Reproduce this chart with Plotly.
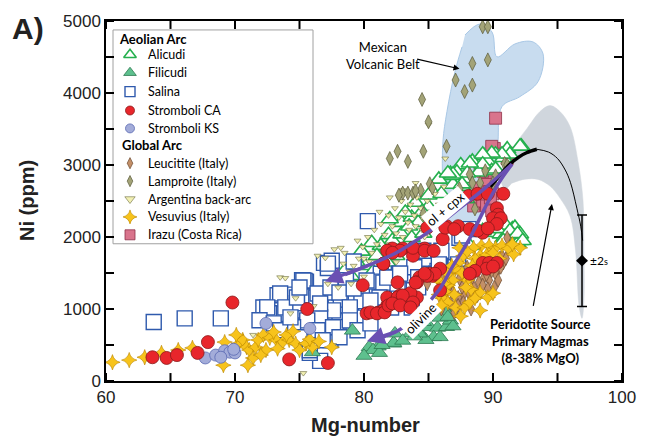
import plotly.graph_objects as go

# ---------------- data (Mg-number, Ni ppm) ----------------
alicudi = [(92.2,3260),(91.1,3220),(90.2,3150),(89.3,3130),(88.4,3050),(87.5,3000),(86.7,2880),(87.7,2810),
           (89.6,3050),(90.8,3100),(86.9,2730),(85.3,2630),(85.0,2580),(82.9,2200),(81.9,2030),(87.2,2900),
           (86.8,2850),(87.6,2700),(87.9,2530),(85.0,2420),(83.7,2270),(82.2,1950),(81.3,1880),(90.4,2130),
           (91.5,2110),(92.1,1950),(91.9,1910),(91.2,2060),(90.0,2060),(90.6,2040),(91.7,2130),(92.1,2040),
           (82.9,2040),(82.5,1740),(81.4,1740),(81.0,1740),(80.1,1600),(79.4,1660),(78.5,1530),(79.8,1800),
           (80.6,1920),(82.0,2250),(83.2,2340),(84.0,2480),(84.2,2200),(83.7,1990),(80.7,1520),(79.0,1460),
           (88.9,2900),(89.9,2920),(91.0,2160),(90.8,1980),(85.8,2800),(84.5,2350),(86.0,2600),
           (92.1,3259),(91.3,3149),(90.7,3149),(89.9,3163),(89.2,3149),(89.2,3011),(88.2,3024),(88.0,2886),
           (86.9,2872),(86.5,2886),(87.6,2734),(90.2,2942),(89.2,2085),(90.3,2113),(91.3,2085),(91.9,2044),
           (92.3,1947),(90.8,1947),(88.2,1878),(83.5,2150),(84.6,2050),(85.5,2250),(86.3,2400),(81.8,1650)]
filicudi = [(76.0,400),(79.1,700),(80.4,470),(81.1,480),(80.7,430),(81.2,390),(82.3,520),(83.6,660),(84.4,660),
            (85.1,750),(85.7,740),(86.4,750),(86.7,840),(86.9,930),(86.4,950),(86.9,760),(85.4,610),(85.9,610),
            (84.8,570),(84.3,660),(83.9,620),(82.3,530),(81.4,500),(82.4,660),(83.6,790),(84.6,820),(85.9,880),
            (86.5,890),(80.0,350),(83.0,560)]
salina = [(63.7,820),(66.1,870),(68.9,870),(72.2,1020),(73.3,1190),(74.0,1200),(75.2,1400),(75.5,1380),(76.9,1640),
          (77.5,1670),(72.7,940),(73.3,750),(74.5,750),(76.1,840),(76.6,660),(77.4,570),(75.6,700),(77.1,940),
          (77.8,1020),(78.1,840),(76.6,280),(75.8,390),(80.3,2220),(77.2,1570),(75.4,1390),(75.0,980),(76.3,1160),
          (76.6,980),(77.8,750),(79.0,980),(79.0,1220),(80.3,1260),(81.3,1490),(82.3,1440),(83.4,1440),(84.4,1490),
          (85.7,1530),(86.7,1580),(85.9,1710),(87.4,1990),(87.1,1580),(83.9,1580),(75.2,750),(76.7,750),(79.8,1110),
          (81.0,1220),(82.0,1260),(83.4,1260),(81.3,1020),(80.0,880),(88.1,2110),(87.6,2020),(79.2,1660),(84.6,1810),
          (86.0,1810),(87.3,1620),(87.2,1490),(85.6,1490),(85.8,1620),(84.2,1440),(82.7,1490),(81.9,1400),(81.4,1220),
          (82.7,1260),(84.2,1300),(83.7,1020),(82.1,1020),(73.8,930),(74.8,1080),(78.6,1400),(80.6,1380),(78.2,1130),
          (77.2,1630),(75.3,1395),(73.5,1215),(72.5,1022),(71.9,843),(73.0,801),(73.9,1022),(74.8,1160),(76.4,1215),
          (77.4,1298),(78.1,1229),(79.2,1284),(80.2,1395),(81.5,1367),(82.6,1353),(81.2,1160),(80.5,1119),(78.9,1022),
          (77.6,981),(76.6,884),(75.6,842),(74.5,746),(73.5,704),(75.0,608),(76.4,704),(77.6,746),(78.9,842),(78.1,608),
          (76.8,566),(75.8,428),(74.3,884),(79.5,704),(80.5,801),(81.8,1436),(82.8,1491),(75.0,1298),(76.6,1077)]
stromboli_ca = [(63.6,330),(64.7,320),(65.5,360),(67.9,540),(67.1,390),(69.8,1090),(74.2,300),(75.6,1000),(77.2,250),
                (79.9,1330),(80.2,940),(81.1,950),(81.8,1050),(82.2,1100),(82.6,1160),(83.3,1190),(82.6,1370),(84.1,1160),
                (84.3,1440),(85.3,1460),(85.9,1560),(85.9,1260),(81.5,1630),(82.2,1840),(83.0,1840),(83.8,1740),(84.7,1840),
                (86.1,1970),(86.4,2150),(87.3,2150),(88.2,2110),(88.1,2570),(88.8,2600),(89.6,2600),(90.8,2600),(90.3,2400),
                (90.4,2310),(90.0,2260),(90.6,2260),(90.3,2180),(89.2,2060),(88.8,2090),(84.9,2130),(81.8,1810),(82.8,1810),
                (89.2,1640),(89.7,1640),(90.3,1640),(89.5,1560),(90.0,1590),(88.6,1530),(88.2,1490),(85.1,1490),(85.5,1490),
                (84.9,1460),(84.1,1370),(83.6,1220),(82.8,1190),(83.0,1150),(82.0,1120),(81.5,980),
                (81.5,1630),(82.2,1781),(83.8,1850),(84.7,1809),(81.8,1160),(82.6,1160),(83.0,1188),(83.8,1091),(80.5,953),
                (81.0,939),(81.6,953),(81.9,1050),(82.2,1077),(82.8,1050),(83.6,1022),(84.0,1367),(84.7,1491),(85.4,1809),
                (86.3,2130),(87.0,2110),(89.6,2120)]
stromboli_ks = [(67.7,320),(68.5,360),(69.2,420),(69.6,400),(70.0,390),(69.9,440),(72.4,800),(75.8,730),(68.9,330)]
leucitite = [(91.1,1990),(90.7,1740),(90.8,1640),(90.4,1550),(90.2,1490),(89.7,1400),(89.3,1440),(88.9,1370),(88.5,1300),
             (88.1,1230),(87.7,1190),(87.3,1160),(86.9,1230),(87.6,1300),(88.4,1440),(89.2,1330),(89.6,1280),(90.1,1300),
             (90.4,1400),(88.8,1190),(88.4,1160),(87.7,1090),(87.3,1050),(86.7,1080),(86.3,1210),(84.9,1350),(87.4,1420),
             (89.9,1530),(90.6,1580),(88.0,1580),(88.7,1550),(86.1,1420),(87.0,950),(86.6,1320),(89.0,1620),(88.3,1000),
             (87.9,1450),(86.0,1000),(89.5,1480),(91.0,1700)]
lamproite = [(89.2,4920),(89.6,4920),(89.6,4460),(88.4,4410),(87.1,4180),(88.4,4110),(87.8,4020),(84.5,3910),(85.0,3600),
             (86.4,3260),(84.6,3190),(82.6,3190),(82.0,3090),(83.4,3050),(83.0,2610),(83.4,2610),(83.8,2610),(84.4,2650),
             (85.1,2740),(85.3,2680),(87.4,2670),(88.2,2870),(88.4,2750),(89.0,2750),(89.4,2920),(90.2,2850),(90.9,3020),
             (91.1,3000),(90.0,2750),(88.6,2390),(84.6,2320),(84.0,2640),(82.7,2580),(89.8,2600),(87.0,2500)]
argentina = [(73.5,1440),(74.7,1150),(74.3,940),(75.3,110),(71.4,640),(76.4,1740),(77.7,1830),(78.2,1850),(78.5,1780),
             (78.4,1630),(77.0,1710),(79.6,1700),(79.2,1600),(73.9,1430),(77.6,500),(76.1,1040),(80.4,1660),(78.9,1520),
             (79.9,1860),(80.3,2000),(80.8,2100),(81.0,1900),(81.3,2180),(81.6,2030),(81.9,2300),(82.2,2150),(82.4,2400),
             (82.7,2270),(82.9,2500),(83.2,2350),(83.4,2200),(83.6,2450),(83.9,2300),(84.1,2550),(84.4,2400),(84.6,2250),
             (84.9,2500),(85.2,2350),(85.5,2600),(85.8,2450),(86.2,2700),(86.3,3090),(85.0,3560),(86.6,2550),(80.6,1780),
             (81.0,1650),(81.5,1800),(82.0,1900),(82.5,2050),(83.0,2000),(83.5,2100),(84.0,2150),(84.5,2100),(85.0,2200),
             (79.5,1950),(80.0,1700),(81.2,2350),(82.0,2550),(83.0,2650),(84.0,2750),(84.7,2000),(85.6,2200),(77.2,1350),
             (78.0,1300),(79.0,1350),(80.0,1450),(82.5,1650)]
vesuvius = [(60.5,260),(61.8,290),(63.0,330),(64.3,390),(65.6,430),(66.7,460),(69.2,540),(69.1,220),(70.3,520),(70.6,570),
            (70.9,470),(71.1,430),(71.6,470),(71.8,570),(72.2,640),(71.4,320),(71.0,220),(72.7,600),(73.2,570),(73.7,540),
            (74.2,570),(74.7,520),(73.3,450),(72.4,430),(73.0,680),(75.0,430),(75.5,520),(76.0,470),(74.0,640),(77.5,470),
            (72.0,360),(70.1,640),(74.5,690),(75.8,580),(76.5,550),
            (89.1,1880),(89.7,1880),(90.2,1850),(90.7,1880),(91.2,1840),(92.1,1850),(89.0,1740),(88.6,1700),(87.7,1740),
            (87.3,1640),(87.1,1560),(86.5,1490),(86.9,1400),(86.5,1330),(86.3,1240),(86.1,1150),(86.5,1090),(87.1,1020),
            (87.8,1020),(88.2,1090),(89.0,1230),(89.6,1160),(90.0,1220),(89.0,980),(86.0,1050),(87.0,1200),(88.0,1400),
            (88.5,1850),(91.6,1760),(90.5,1700),(85.9,1380),(88.3,1270),(88.0,1800),(88.4,1600),(87.6,1500),(87.9,1300),
            (88.6,1150),(86.8,1600),(87.4,1850),(89.5,1750),(90.0,1780),(91.5,1900),(86.2,1350),(87.5,900),(85.8,1200)]
irazu = [(90.2,3650),(90.1,3230),(90.7,3150),(89.0,2950),(89.4,2850),(88.9,2680),(89.5,2730),(89.1,2470),(89.5,2500),
         (90.1,2390),(90.0,2600),(89.7,2630),(91.1,3090),(88.6,2500),(89.9,3259),(91.1,3163),(89.2,2914),(89.4,2610),
         (88.5,2431),(89.2,2500),(89.5,2431),(89.9,2362),(89.8,2541)]

# Mexican Volcanic Belt field outline
mvb_field = [(87.83,4806),(88.99,4958),(89.92,4847),(90.31,4502),(91.71,4682),(93.10,4709),(93.88,4543),(93.49,4157),
             (92.09,3950),(90.70,3812),(90.39,3328),(90.31,2845),(89.77,2500),(88.60,2154),(87.44,2085),(86.43,2292),
             (86.12,2707),(86.12,3328),(86.43,3742),(87.05,4295),(87.60,4640)]
# Peridotite-source primary magma field outline
perid_field = [(90.93,2638),(90.54,2845),(90.93,3052),(91.71,3287),(92.64,3508),(93.64,3743),(94.42,3825),(95.19,3743),
               (95.97,3535),(96.59,3052),(96.98,2500),(97.05,1809),(97.05,1119),(96.90,870),(96.67,1050),(96.40,1809),
               (95.97,2292),(95.19,2541),(94.42,2707),(93.49,2800),(92.48,2803),(91.47,2748)]
perid_curve_thick = [(89.8,2700),(90.5,2850),(91.3,3010),(92.0,3110),(92.6,3170),(93.4,3218)]
perid_curve_thin = [(93.4,3218),(94.3,3180),(95.0,3090),(95.6,2930),(96.0,2760),(96.5,2400),(96.8,2150),(96.95,1950)]
olcpx_path = [(91.47,3011),(89.38,2679),(87.44,2403),(85.12,2085),(82.79,1809),(80.47,1616),(78.53,1478),(76.98,1381)]
olivine_path = [(91.47,3011),(90.54,2776),(89.53,2458),(88.22,1989),(86.82,1574),(85.89,1284),(84.88,1063),(83.80,842),
                (82.56,691),(81.24,594),(80.23,552)]
err_point = (96.9, 1671)
err_2s = 635

x_range = [60, 100]
y_range = [0, 5000]
x_tickvals = [60, 65, 70, 75, 80, 85, 90, 95, 100]
x_ticktext = ["60", "", "70", "", "80", "", "90", "", "100"]
y_tickvals = [0, 500, 1000, 1500, 2000, 2500, 3000, 3500, 4000, 4500, 5000]
y_ticktext = ["0", "", "1000", "", "2000", "", "3000", "", "4000", "", "5000"]

legend_groups = ["Aeolian Arc", "Global Arc"]
legend_names = ["Alicudi", "Filicudi", "Salina", "Stromboli CA", "Stromboli KS",
                "Leucitite (Italy)", "Lamproite (Italy)", "Argentina back-arc", "Vesuvius (Italy)", "Irazu (Costa Rica)"]

# ---------------- styles ----------------
styles = {
    "Alicudi": dict(symbol="triangle-up", size=15, color="white", line=dict(color="#25b04e", width=1.6)),
    "Filicudi": dict(symbol="triangle-up", size=14, color="#5ec08e", line=dict(color="#2d7a52", width=0.8)),
    "Salina": dict(symbol="square", size=15, color="white", line=dict(color="#2f5aad", width=1.4)),
    "Stromboli CA": dict(symbol="circle", size=13, color="#e8262b", line=dict(color="#8a1a1a", width=0.8)),
    "Stromboli KS": dict(symbol="circle", size=12, color="#a3acd9", line=dict(color="#5b69b3", width=0.8)),
    "Leucitite (Italy)": dict(symbol="diamond-tall", size=10, color="#c38f68", line=dict(color="#6b4a30", width=0.7)),
    "Lamproite (Italy)": dict(symbol="diamond-tall", size=10, color="#a3a377", line=dict(color="#5a5a3a", width=0.7)),
    "Argentina back-arc": dict(symbol="triangle-down", size=6, color="#f2f0b3", line=dict(color="#6b6b40", width=0.6)),
    "Vesuvius (Italy)": dict(symbol="star-diamond", size=11, color="#f7c31b", line=dict(color="#b98400", width=0.6)),
    "Irazu (Costa Rica)": dict(symbol="square", size=12, color="#d9748c", line=dict(color="#8e3048", width=0.8)),
}
legend_sizes = {"Alicudi": 11, "Filicudi": 11, "Salina": 10, "Stromboli CA": 9, "Stromboli KS": 9,
                "Leucitite (Italy)": 8, "Lamproite (Italy)": 8, "Argentina back-arc": 9,
                "Vesuvius (Italy)": 10, "Irazu (Costa Rica)": 10}
series_data = {"Alicudi": alicudi, "Filicudi": filicudi, "Salina": salina, "Stromboli CA": stromboli_ca,
               "Stromboli KS": stromboli_ks, "Leucitite (Italy)": leucitite, "Lamproite (Italy)": lamproite,
               "Argentina back-arc": argentina, "Vesuvius (Italy)": vesuvius, "Irazu (Costa Rica)": irazu}
draw_order = ["Irazu (Costa Rica)", "Alicudi", "Salina", "Filicudi", "Argentina back-arc", "Leucitite (Italy)",
              "Vesuvius (Italy)", "Lamproite (Italy)", "Stromboli KS", "Stromboli CA"]

# plot-area geometry in pixels (for legend / tick placement)
W, H = 653, 439
ML, MR, MT, MB = 106, 31, 19, 58
PW, PH = W - ML - MR, H - MT - MB
TICK_LEN = 8

def px_x(px):
    return (px - ML) / PW

def px_y(py):
    return (H - MB - py) / PH

def frac_to_data(fx, fy):
    return (x_range[0] + fx * (x_range[1] - x_range[0]), y_range[0] + fy * (y_range[1] - y_range[0]))

def xs(pts):
    return [p[0] for p in pts]

def ys(pts):
    return [p[1] for p in pts]

fig = go.Figure()

# fields
fig.add_trace(go.Scatter(x=xs(mvb_field), y=ys(mvb_field), mode="lines", fill="toself",
                         line=dict(shape="spline", color="#a9c8e6", width=1), fillcolor="#c8dcef",
                         hoverinfo="skip"))
fig.add_trace(go.Scatter(x=xs(perid_field), y=ys(perid_field), mode="lines", fill="toself",
                         line=dict(shape="spline", color="#d0d6dd", width=0.5), fillcolor="#d0d6dd",
                         hoverinfo="skip"))

for name in draw_order:
    pts = series_data[name]
    fig.add_trace(go.Scatter(x=xs(pts), y=ys(pts), mode="markers", name=name, marker=styles[name]))

# model curve
fig.add_trace(go.Scatter(x=xs(perid_curve_thick), y=ys(perid_curve_thick), mode="lines",
                         line=dict(color="black", width=3.5, shape="spline"), hoverinfo="skip"))
fig.add_trace(go.Scatter(x=xs(perid_curve_thin), y=ys(perid_curve_thin), mode="lines",
                         line=dict(color="black", width=1, shape="spline"), hoverinfo="skip"))

# fractionation paths
purple = "#6a50b3"
for path in (olcpx_path, olivine_path):
    fig.add_trace(go.Scatter(x=xs(path[:-1]), y=ys(path[:-1]), mode="lines",
                             line=dict(color=purple, width=3.5, shape="spline"), hoverinfo="skip"))
    fig.add_annotation(x=path[-1][0], y=path[-1][1], ax=path[-3][0], ay=path[-3][1], axref="x", ayref="y",
                       xref="x", yref="y", text="", showarrow=True, arrowhead=2, arrowsize=1.1,
                       arrowwidth=3.2, arrowcolor=purple)

# 2s error bar
fig.add_trace(go.Scatter(x=[err_point[0]], y=[err_point[1]], mode="markers",
                         marker=dict(symbol="diamond", size=9, color="black"),
                         error_y=dict(type="constant", value=err_2s, color="black", thickness=1.5, width=5),
                         error_x=dict(type="constant", value=0.4, color="black", thickness=2, width=0),
                         hoverinfo="skip"))

# ---------------- custom legend ----------------
fig.add_shape(type="rect", xref="paper", yref="paper", x0=px_x(113), x1=px_x(313), y0=px_y(243), y1=px_y(28),
              fillcolor="white", line=dict(color="#a0a0a0", width=1), layer="below")
leg_font = dict(family="Lato", size=12.5, color="black")
header_rows = [(37, 117), (144, 120)]
item_rows = [53, 71, 90, 109, 127, 162, 180, 198, 216, 234]
for (row, hx), g in zip(header_rows, legend_groups):
    fig.add_annotation(x=px_x(hx), y=px_y(row), xref="paper", yref="paper", xanchor="left", yanchor="middle",
                       text="<b>" + g + "</b>", showarrow=False, font=dict(family="Lato", size=13, color="black"))
for row, name in zip(item_rows, legend_names):
    mx, my = frac_to_data(px_x(130), px_y(row))
    mk = dict(styles[name])
    mk["size"] = legend_sizes[name]
    fig.add_trace(go.Scatter(x=[mx], y=[my], mode="markers", marker=mk, hoverinfo="skip", cliponaxis=False))
    fig.add_annotation(x=px_x(146), y=px_y(row), xref="paper", yref="paper", xanchor="left", yanchor="middle",
                       text=name, showarrow=False, font=leg_font)

# ---------------- inside tick marks on all four sides (from the tick arrays) ----------------
tick_line = dict(color="black", width=2)
for v in x_tickvals:
    fig.add_shape(type="line", xref="x", yref="paper", x0=v, x1=v, y0=0, y1=TICK_LEN / PH, line=tick_line, layer="above")
    fig.add_shape(type="line", xref="x", yref="paper", x0=v, x1=v, y0=1 - TICK_LEN / PH, y1=1, line=tick_line, layer="above")
for v in y_tickvals:
    fig.add_shape(type="line", xref="paper", yref="y", x0=0, x1=TICK_LEN / PW, y0=v, y1=v, line=tick_line, layer="above")
    fig.add_shape(type="line", xref="paper", yref="y", x0=1 - TICK_LEN / PW, x1=1, y0=v, y1=v, line=tick_line, layer="above")

# ---------------- annotations ----------------
txt_font = dict(family="Lato", size=13, color="black")
fig.add_annotation(x=81.5, y=4520, xref="x", yref="y", text="Mexican<br>Volcanic Belt", showarrow=False,
                   font=txt_font, align="center", xanchor="center", yanchor="middle")
fig.add_annotation(x=87.4, y=4336, ax=84.0, ay=4474, axref="x", ayref="y", xref="x", yref="y", text="",
                   showarrow=True, arrowhead=2, arrowsize=1, arrowwidth=1.2, arrowcolor="black")
fig.add_annotation(x=93.7, y=552, xref="x", yref="y",
                   text="<b>Peridotite Source<br>Primary Magmas<br>(8-38% MgO)</b>", showarrow=False,
                   font=txt_font, align="center", xanchor="center", yanchor="middle")
fig.add_annotation(x=94.57, y=2458, ax=93.1, ay=1022, axref="x", ayref="y", xref="x", yref="y", text="",
                   showarrow=True, arrowhead=2, arrowsize=1, arrowwidth=1.2, arrowcolor="black")
fig.add_annotation(x=86.28, y=2389, xref="x", yref="y", text="ol + cpx", showarrow=False, textangle=-40,
                   font=txt_font, bgcolor="white", borderpad=1, xanchor="center", yanchor="middle")
fig.add_annotation(x=84.42, y=870, xref="x", yref="y", text="olivine", showarrow=False, textangle=-45,
                   font=txt_font, bgcolor="white", borderpad=1, xanchor="center", yanchor="middle")
fig.add_annotation(x=97.35, y=1671, xref="x", yref="y", xanchor="left", yanchor="middle",
                   text="±2<span style='font-size:9px'>s</span>", showarrow=False,
                   font=dict(family="Lato", size=12, color="black"))

fig.add_annotation(x=px_x(10), y=px_y(27), xref="paper", yref="paper", xanchor="left", yanchor="middle",
                   text="<b>A)</b>", showarrow=False, font=dict(family="Liberation Sans", size=30, color="#222"))
fig.add_annotation(x=px_x(365), y=px_y(425), xref="paper", yref="paper", xanchor="center", yanchor="middle",
                   text="<b>Mg-number</b>", showarrow=False,
                   font=dict(family="Liberation Sans", size=20, color="#222"))
fig.add_annotation(x=px_x(27), y=px_y(200), xref="paper", yref="paper", xanchor="center", yanchor="middle",
                   text="<b>Ni (ppm)</b>", showarrow=False, textangle=-90,
                   font=dict(family="Liberation Sans", size=20, color="#222"))

axis_common = dict(showgrid=False, zeroline=False, showline=True, linecolor="black", linewidth=1.5,
                   mirror=True, ticks="", tickfont=dict(family="Liberation Sans", size=17, color="#222"))
fig.update_xaxes(range=x_range, tickmode="array", tickvals=x_tickvals, ticktext=x_ticktext, **axis_common)
fig.update_yaxes(range=y_range, tickmode="array", tickvals=y_tickvals, ticktext=y_ticktext, **axis_common)

fig.update_layout(
    width=W, height=H,
    margin=dict(l=ML, r=MR, t=MT, b=MB),
    plot_bgcolor="white", paper_bgcolor="white",
    showlegend=False,
)

fig.write_html("out.html")
